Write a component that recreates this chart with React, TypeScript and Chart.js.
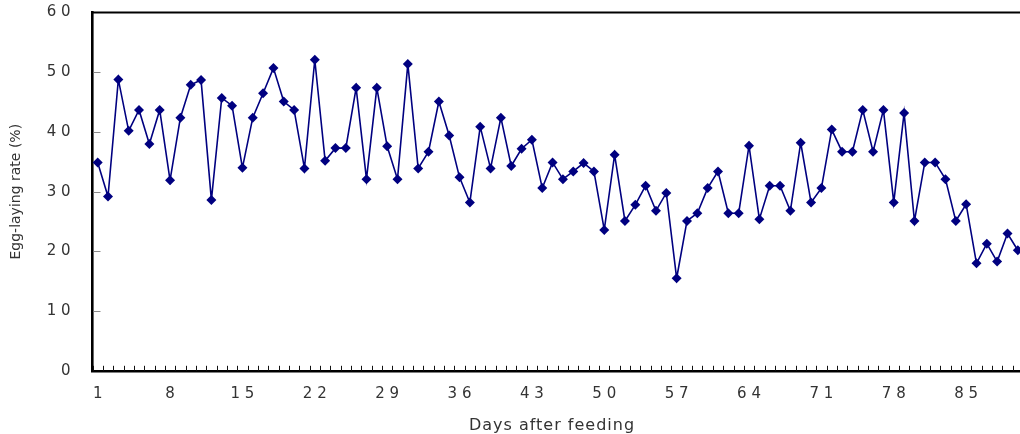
import React, { useEffect, useRef } from "react";
import { Chart, registerables } from "chart.js";

Chart.register(...registerables);

const days: string[] = [
  "1","2","3","4","5","6","7","8","9","10",
  "11","12","13","14","15","16","17","18","19","20",
  "21","22","23","24","25","26","27","28","29","30",
  "31","32","33","34","35","36","37","38","39","40",
  "41","42","43","44","45","46","47","48","49","50",
  "51","52","53","54","55","56","57","58","59","60",
  "61","62","63","64","65","66","67","68","69","70",
  "71","72","73","74","75","76","77","78","79","80",
  "81","82","83","84","85","86","87","88","89","90",
];

const eggLayingRate: number[] = [
  34.9, 29.2, 48.8, 40.2, 43.7, 38.0, 43.7, 31.9, 42.4, 47.9,
  48.7, 28.6, 45.7, 44.4, 34.0, 42.4, 46.5, 50.7, 45.1, 43.7,
  33.9, 52.1, 35.2, 37.3, 37.3, 47.4, 32.1, 47.4, 37.6, 32.1,
  51.4, 33.9, 36.7, 45.1, 39.4, 32.4, 28.2, 40.9, 33.9, 42.4,
  34.3, 37.2, 38.7, 30.6, 34.9, 32.1, 33.4, 34.8, 33.4, 23.6,
  36.2, 25.1, 27.8, 31.0, 26.8, 29.8, 15.5, 25.1, 26.4, 30.6,
  33.4, 26.4, 26.4, 37.7, 25.4, 31.0, 31.0, 26.8, 38.2, 28.2,
  30.6, 40.4, 36.7, 36.7, 43.7, 36.7, 43.7, 28.2, 43.2, 25.1,
  34.9, 34.9, 32.1, 25.1, 27.9, 18.0, 21.3, 18.3, 23.0, 20.2,
];

const xTickLabels: string[] = ["1", "8", "15", "22", "29", "36", "43", "50", "57", "64", "71", "78", "85"];
const yTickValues: number[] = [0, 10, 20, 30, 40, 50, 60];

const xTitle = "Days after feeding";
const yTitle = "Egg-laying rate (%)";

const spaced = (s: string) => s.split("").join(" ");

const decorPlugin = {
  id: "decor",
  afterDraw(chart: any) {
    const { ctx, chartArea } = chart;
    const xs = chart.scales.x;
    const ys = chart.scales.y;
    ctx.save();
    // inward y ticks
    ctx.strokeStyle = "#8a8a8a";
    ctx.lineWidth = 1;
    ctx.beginPath();
    yTickValues.forEach((v) => {
      if (v <= 0 || v >= 60) return;
      const py = Math.round(ys.getPixelForValue(v)) + 0.5;
      ctx.moveTo(chartArea.left + 1, py);
      ctx.lineTo(chartArea.left + 8, py);
    });
    ctx.stroke();
    // inward x ticks at category boundaries
    const n = days.length;
    const step = (xs.right - xs.left) / n;
    ctx.strokeStyle = "#111";
    ctx.beginPath();
    for (let i = 0; i < n; i++) {
      const px = Math.round(xs.getPixelForValue(i) - step / 2) + 0.5;
      ctx.moveTo(px, chartArea.bottom);
      ctx.lineTo(px, chartArea.bottom - 5);
    }
    ctx.stroke();
    // top border
    ctx.strokeStyle = "#000";
    ctx.lineWidth = 2;
    ctx.beginPath();
    ctx.moveTo(chartArea.left - 1, chartArea.top);
    ctx.lineTo(chartArea.right + 2, chartArea.top);
    ctx.stroke();
    // x title
    ctx.fillStyle = "#333";
    ctx.font = '16px "DejaVu Sans"';
    (ctx as any).letterSpacing = "1px";
    ctx.textAlign = "center";
    ctx.textBaseline = "alphabetic";
    ctx.fillText(xTitle, 552, 430);
    ctx.restore();
  },
};

export default function App() {
  const canvasRef = useRef<HTMLCanvasElement | null>(null);

  useEffect(() => {
    if (!canvasRef.current) return;
    const chart = new Chart(canvasRef.current, {
      type: "line",
      data: {
        labels: days,
        datasets: [
          {
            data: eggLayingRate,
            borderColor: "#000080",
            backgroundColor: "#000080",
            borderWidth: 1.6,
            pointStyle: "rectRot",
            pointRadius: 5,
            pointBorderWidth: 0,
            pointBackgroundColor: "#000080",
            tension: 0,
            fill: false,
          },
        ],
      },
      options: {
        animation: false,
        responsive: true,
        maintainAspectRatio: false,
        layout: { padding: { top: 12.6, right: 7, left: 0, bottom: 0 } },
        plugins: {
          legend: { display: false },
          tooltip: { enabled: false },
        },
        scales: {
          x: {
            type: "category",
            offset: true,
            grid: { display: false, drawTicks: false },
            border: { display: true, color: "#000", width: 2.6 },
            ticks: {
              autoSkip: false,
              maxRotation: 0,
              minRotation: 0,
              padding: 14,
              color: "#333",
              font: { family: '"DejaVu Sans"', size: 15 },
              callback: (_v: any, idx: number) =>
                xTickLabels.includes(days[idx]) ? spaced(days[idx]) : "",
            },
            afterFit: (s: any) => {
              s.height = 63.2;
              s.paddingLeft = 0;
              s.paddingRight = 0;
            },
          },
          y: {
            min: 0,
            max: 60,
            grid: { display: false, drawTicks: false },
            border: { display: true, color: "#000", width: 2.6 },
            ticks: {
              stepSize: 10,
              padding: 22,
              color: "#333",
              font: { family: '"DejaVu Sans"', size: 15 },
              callback: (v: any) => spaced(String(v)),
            },
            title: {
              display: true,
              text: yTitle,
              color: "#333",
              font: { family: '"DejaVu Sans"', size: 14 },
              padding: { top: 8, bottom: 0 },
            },
            afterFit: (s: any) => {
              s.width = 92.5;
              s.paddingTop = 0;
              s.paddingBottom = 0;
            },
          },
        },
      },
      plugins: [decorPlugin],
    });
    return () => chart.destroy();
  }, []);

  return (
    <div
      style={{
        position: "fixed",
        left: 0,
        top: 0,
        width: 1020,
        height: 434,
        overflow: "hidden",
        background: "#fff",
      }}
    >
      <div style={{ position: "relative", width: 1030, height: 434 }}>
        <canvas ref={canvasRef} />
      </div>
    </div>
  );
}
